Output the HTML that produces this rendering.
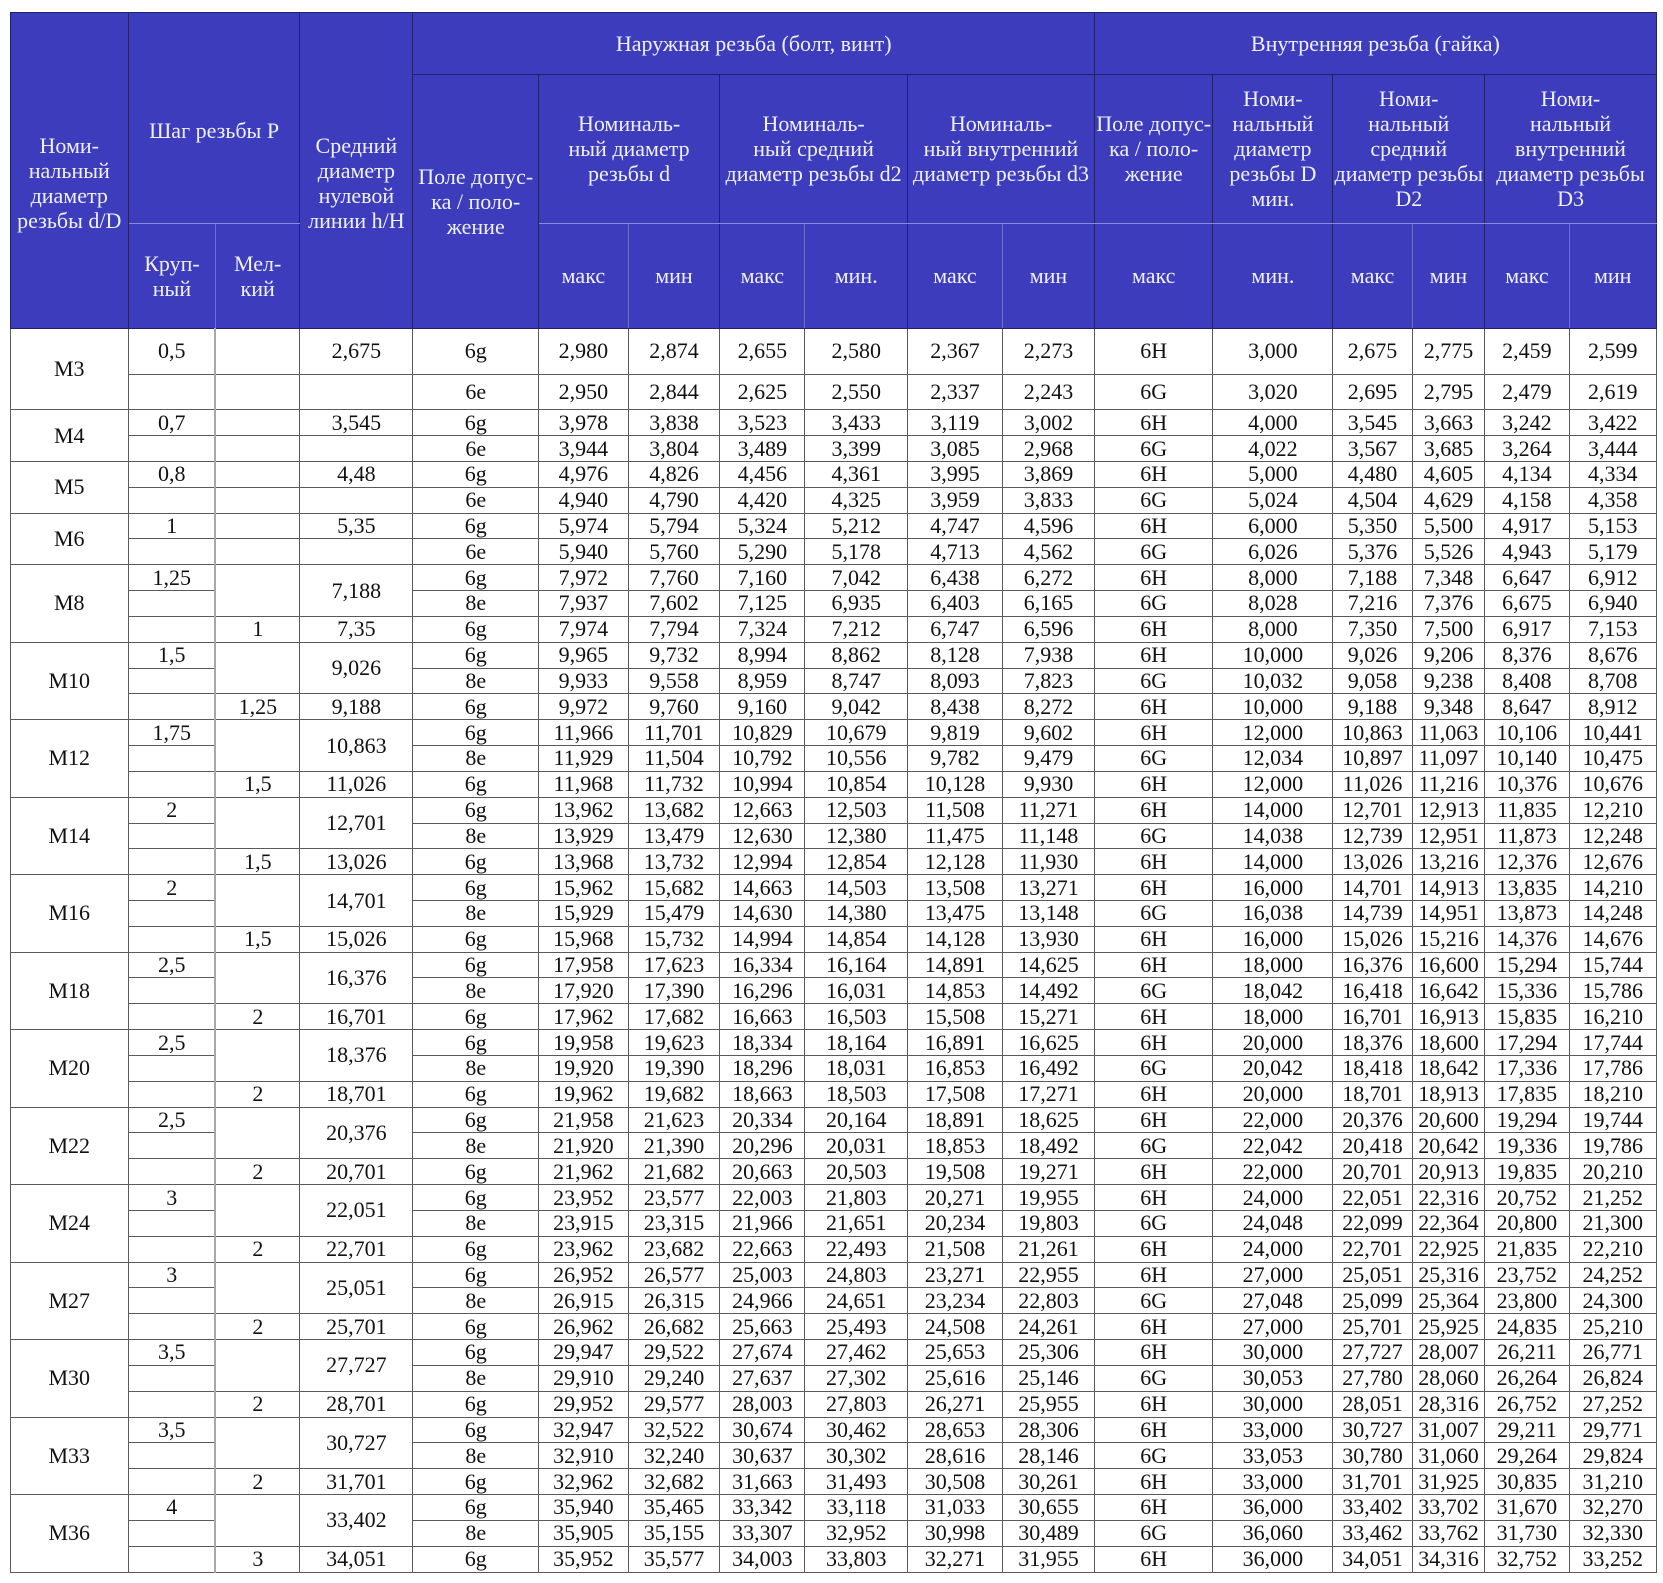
<!DOCTYPE html>
<html><head><meta charset="utf-8">
<style>
html,body{margin:0;padding:0;background:#fff;}
body{width:1663px;height:1583px;overflow:hidden;position:relative;}
table{position:absolute;left:9.6px;top:11.7px;border-collapse:collapse;table-layout:fixed;width:1646px;font-family:"Liberation Serif","DejaVu Serif",serif;font-size:22px;}
td{padding:0;text-align:center;vertical-align:middle;white-space:nowrap;border:1px solid #5a5a5a;line-height:22px;color:#111;overflow:hidden;}
thead td{background:#3c3cbc;color:#f0f0fa;border-color:#20206e;line-height:25px;}
thead td.pt{padding-top:26px;}
thead td.lb{border-bottom-color:#8a8ad8;}
thead td.lr{border-right-color:#6d6dcc;}
tr.a{height:62.3px;} tr.b{height:148.7px;} tr.c{height:105px;}
tr.r1{height:46.6px;} tr.r2{height:35px;}
tbody tr{height:25.84px;}
tbody td.k{border-right:2px solid #a8a8a8;}
</style></head><body>
<table>
<colgroup>
<col style="width:118.3px"><col style="width:87.1px"><col style="width:84.3px"><col style="width:113.2px"><col style="width:125.5px"><col style="width:89.8px"><col style="width:91.4px"><col style="width:85.3px"><col style="width:102.5px"><col style="width:95px"><col style="width:91.9px"><col style="width:118.5px"><col style="width:119.9px"><col style="width:79.4px"><col style="width:72.5px"><col style="width:84.4px"><col style="width:87.2px">
</colgroup>
<thead>
<tr class="a">
<td rowspan="3" class="pt">Номи-<br>нальный<br>диаметр<br>резьбы d/D</td>
<td colspan="2" rowspan="2" class="pt lb">Шаг резьбы Р</td>
<td rowspan="3" class="pt">Средний<br>диаметр<br>нулевой<br>линии h/H</td>
<td colspan="7">Наружная резьба (болт, винт)</td>
<td colspan="6">Внутренняя резьба (гайка)</td>
</tr>
<tr class="b">
<td rowspan="2">Поле допус-<br>ка / поло-<br>жение</td>
<td colspan="2" class="lb">Номиналь-<br>ный диаметр<br>резьбы d</td>
<td colspan="2" class="lb">Номиналь-<br>ный средний<br>диаметр резьбы d2</td>
<td colspan="2" class="lb">Номиналь-<br>ный внутренний<br>диаметр резьбы d3</td>
<td class="lb">Поле допус-<br>ка / поло-<br>жение</td>
<td class="lb">Номи-<br>нальный<br>диаметр<br>резьбы D<br>мин.</td>
<td colspan="2" class="lb">Номи-<br>нальный<br>средний<br>диаметр резьбы<br>D2</td>
<td colspan="2" class="lb">Номи-<br>нальный<br>внутренний<br>диаметр резьбы<br>D3</td>
</tr>
<tr class="c">
<td class="lr">Круп-<br>ный</td><td>Мел-<br>кий</td>
<td class="lr">макс</td><td>мин</td><td class="lr">макс</td><td>мин.</td><td class="lr">макс</td><td>мин</td>
<td>макс</td><td>мин.</td><td class="lr">макс</td><td>мин</td><td class="lr">макс</td><td>мин</td>
</tr>
</thead>
<tbody>
<tr class="r1"><td rowspan="2">M3</td><td class="k">0,5</td><td></td><td>2,675</td><td>6g</td><td>2,980</td><td>2,874</td><td>2,655</td><td>2,580</td><td>2,367</td><td>2,273</td><td>6H</td><td>3,000</td><td>2,675</td><td>2,775</td><td>2,459</td><td>2,599</td></tr>
<tr class="r2"><td class="k"></td><td></td><td></td><td>6e</td><td>2,950</td><td>2,844</td><td>2,625</td><td>2,550</td><td>2,337</td><td>2,243</td><td>6G</td><td>3,020</td><td>2,695</td><td>2,795</td><td>2,479</td><td>2,619</td></tr>

<tr><td rowspan="2">M4</td><td class="k">0,7</td><td></td><td>3,545</td><td>6g</td><td>3,978</td><td>3,838</td><td>3,523</td><td>3,433</td><td>3,119</td><td>3,002</td><td>6H</td><td>4,000</td><td>3,545</td><td>3,663</td><td>3,242</td><td>3,422</td></tr>
<tr><td class="k"></td><td></td><td></td><td>6e</td><td>3,944</td><td>3,804</td><td>3,489</td><td>3,399</td><td>3,085</td><td>2,968</td><td>6G</td><td>4,022</td><td>3,567</td><td>3,685</td><td>3,264</td><td>3,444</td></tr>

<tr><td rowspan="2">M5</td><td class="k">0,8</td><td></td><td>4,48</td><td>6g</td><td>4,976</td><td>4,826</td><td>4,456</td><td>4,361</td><td>3,995</td><td>3,869</td><td>6H</td><td>5,000</td><td>4,480</td><td>4,605</td><td>4,134</td><td>4,334</td></tr>
<tr><td class="k"></td><td></td><td></td><td>6e</td><td>4,940</td><td>4,790</td><td>4,420</td><td>4,325</td><td>3,959</td><td>3,833</td><td>6G</td><td>5,024</td><td>4,504</td><td>4,629</td><td>4,158</td><td>4,358</td></tr>

<tr><td rowspan="2">M6</td><td class="k">1</td><td></td><td>5,35</td><td>6g</td><td>5,974</td><td>5,794</td><td>5,324</td><td>5,212</td><td>4,747</td><td>4,596</td><td>6H</td><td>6,000</td><td>5,350</td><td>5,500</td><td>4,917</td><td>5,153</td></tr>
<tr><td class="k"></td><td></td><td></td><td>6e</td><td>5,940</td><td>5,760</td><td>5,290</td><td>5,178</td><td>4,713</td><td>4,562</td><td>6G</td><td>6,026</td><td>5,376</td><td>5,526</td><td>4,943</td><td>5,179</td></tr>

<tr><td rowspan="3">M8</td><td class="k">1,25</td><td rowspan="2"></td><td rowspan="2">7,188</td><td>6g</td><td>7,972</td><td>7,760</td><td>7,160</td><td>7,042</td><td>6,438</td><td>6,272</td><td>6H</td><td>8,000</td><td>7,188</td><td>7,348</td><td>6,647</td><td>6,912</td></tr>
<tr><td class="k"></td><td>8e</td><td>7,937</td><td>7,602</td><td>7,125</td><td>6,935</td><td>6,403</td><td>6,165</td><td>6G</td><td>8,028</td><td>7,216</td><td>7,376</td><td>6,675</td><td>6,940</td></tr>
<tr><td class="k"></td><td>1</td><td>7,35</td><td>6g</td><td>7,974</td><td>7,794</td><td>7,324</td><td>7,212</td><td>6,747</td><td>6,596</td><td>6H</td><td>8,000</td><td>7,350</td><td>7,500</td><td>6,917</td><td>7,153</td></tr>

<tr><td rowspan="3">M10</td><td class="k">1,5</td><td rowspan="2"></td><td rowspan="2">9,026</td><td>6g</td><td>9,965</td><td>9,732</td><td>8,994</td><td>8,862</td><td>8,128</td><td>7,938</td><td>6H</td><td>10,000</td><td>9,026</td><td>9,206</td><td>8,376</td><td>8,676</td></tr>
<tr><td class="k"></td><td>8e</td><td>9,933</td><td>9,558</td><td>8,959</td><td>8,747</td><td>8,093</td><td>7,823</td><td>6G</td><td>10,032</td><td>9,058</td><td>9,238</td><td>8,408</td><td>8,708</td></tr>
<tr><td class="k"></td><td>1,25</td><td>9,188</td><td>6g</td><td>9,972</td><td>9,760</td><td>9,160</td><td>9,042</td><td>8,438</td><td>8,272</td><td>6H</td><td>10,000</td><td>9,188</td><td>9,348</td><td>8,647</td><td>8,912</td></tr>

<tr><td rowspan="3">M12</td><td class="k">1,75</td><td rowspan="2"></td><td rowspan="2">10,863</td><td>6g</td><td>11,966</td><td>11,701</td><td>10,829</td><td>10,679</td><td>9,819</td><td>9,602</td><td>6H</td><td>12,000</td><td>10,863</td><td>11,063</td><td>10,106</td><td>10,441</td></tr>
<tr><td class="k"></td><td>8e</td><td>11,929</td><td>11,504</td><td>10,792</td><td>10,556</td><td>9,782</td><td>9,479</td><td>6G</td><td>12,034</td><td>10,897</td><td>11,097</td><td>10,140</td><td>10,475</td></tr>
<tr><td class="k"></td><td>1,5</td><td>11,026</td><td>6g</td><td>11,968</td><td>11,732</td><td>10,994</td><td>10,854</td><td>10,128</td><td>9,930</td><td>6H</td><td>12,000</td><td>11,026</td><td>11,216</td><td>10,376</td><td>10,676</td></tr>

<tr><td rowspan="3">M14</td><td class="k">2</td><td rowspan="2"></td><td rowspan="2">12,701</td><td>6g</td><td>13,962</td><td>13,682</td><td>12,663</td><td>12,503</td><td>11,508</td><td>11,271</td><td>6H</td><td>14,000</td><td>12,701</td><td>12,913</td><td>11,835</td><td>12,210</td></tr>
<tr><td class="k"></td><td>8e</td><td>13,929</td><td>13,479</td><td>12,630</td><td>12,380</td><td>11,475</td><td>11,148</td><td>6G</td><td>14,038</td><td>12,739</td><td>12,951</td><td>11,873</td><td>12,248</td></tr>
<tr><td class="k"></td><td>1,5</td><td>13,026</td><td>6g</td><td>13,968</td><td>13,732</td><td>12,994</td><td>12,854</td><td>12,128</td><td>11,930</td><td>6H</td><td>14,000</td><td>13,026</td><td>13,216</td><td>12,376</td><td>12,676</td></tr>

<tr><td rowspan="3">M16</td><td class="k">2</td><td rowspan="2"></td><td rowspan="2">14,701</td><td>6g</td><td>15,962</td><td>15,682</td><td>14,663</td><td>14,503</td><td>13,508</td><td>13,271</td><td>6H</td><td>16,000</td><td>14,701</td><td>14,913</td><td>13,835</td><td>14,210</td></tr>
<tr><td class="k"></td><td>8e</td><td>15,929</td><td>15,479</td><td>14,630</td><td>14,380</td><td>13,475</td><td>13,148</td><td>6G</td><td>16,038</td><td>14,739</td><td>14,951</td><td>13,873</td><td>14,248</td></tr>
<tr><td class="k"></td><td>1,5</td><td>15,026</td><td>6g</td><td>15,968</td><td>15,732</td><td>14,994</td><td>14,854</td><td>14,128</td><td>13,930</td><td>6H</td><td>16,000</td><td>15,026</td><td>15,216</td><td>14,376</td><td>14,676</td></tr>

<tr><td rowspan="3">M18</td><td class="k">2,5</td><td rowspan="2"></td><td rowspan="2">16,376</td><td>6g</td><td>17,958</td><td>17,623</td><td>16,334</td><td>16,164</td><td>14,891</td><td>14,625</td><td>6H</td><td>18,000</td><td>16,376</td><td>16,600</td><td>15,294</td><td>15,744</td></tr>
<tr><td class="k"></td><td>8e</td><td>17,920</td><td>17,390</td><td>16,296</td><td>16,031</td><td>14,853</td><td>14,492</td><td>6G</td><td>18,042</td><td>16,418</td><td>16,642</td><td>15,336</td><td>15,786</td></tr>
<tr><td class="k"></td><td>2</td><td>16,701</td><td>6g</td><td>17,962</td><td>17,682</td><td>16,663</td><td>16,503</td><td>15,508</td><td>15,271</td><td>6H</td><td>18,000</td><td>16,701</td><td>16,913</td><td>15,835</td><td>16,210</td></tr>

<tr><td rowspan="3">M20</td><td class="k">2,5</td><td rowspan="2"></td><td rowspan="2">18,376</td><td>6g</td><td>19,958</td><td>19,623</td><td>18,334</td><td>18,164</td><td>16,891</td><td>16,625</td><td>6H</td><td>20,000</td><td>18,376</td><td>18,600</td><td>17,294</td><td>17,744</td></tr>
<tr><td class="k"></td><td>8e</td><td>19,920</td><td>19,390</td><td>18,296</td><td>18,031</td><td>16,853</td><td>16,492</td><td>6G</td><td>20,042</td><td>18,418</td><td>18,642</td><td>17,336</td><td>17,786</td></tr>
<tr><td class="k"></td><td>2</td><td>18,701</td><td>6g</td><td>19,962</td><td>19,682</td><td>18,663</td><td>18,503</td><td>17,508</td><td>17,271</td><td>6H</td><td>20,000</td><td>18,701</td><td>18,913</td><td>17,835</td><td>18,210</td></tr>

<tr><td rowspan="3">M22</td><td class="k">2,5</td><td rowspan="2"></td><td rowspan="2">20,376</td><td>6g</td><td>21,958</td><td>21,623</td><td>20,334</td><td>20,164</td><td>18,891</td><td>18,625</td><td>6H</td><td>22,000</td><td>20,376</td><td>20,600</td><td>19,294</td><td>19,744</td></tr>
<tr><td class="k"></td><td>8e</td><td>21,920</td><td>21,390</td><td>20,296</td><td>20,031</td><td>18,853</td><td>18,492</td><td>6G</td><td>22,042</td><td>20,418</td><td>20,642</td><td>19,336</td><td>19,786</td></tr>
<tr><td class="k"></td><td>2</td><td>20,701</td><td>6g</td><td>21,962</td><td>21,682</td><td>20,663</td><td>20,503</td><td>19,508</td><td>19,271</td><td>6H</td><td>22,000</td><td>20,701</td><td>20,913</td><td>19,835</td><td>20,210</td></tr>

<tr><td rowspan="3">M24</td><td class="k">3</td><td rowspan="2"></td><td rowspan="2">22,051</td><td>6g</td><td>23,952</td><td>23,577</td><td>22,003</td><td>21,803</td><td>20,271</td><td>19,955</td><td>6H</td><td>24,000</td><td>22,051</td><td>22,316</td><td>20,752</td><td>21,252</td></tr>
<tr><td class="k"></td><td>8e</td><td>23,915</td><td>23,315</td><td>21,966</td><td>21,651</td><td>20,234</td><td>19,803</td><td>6G</td><td>24,048</td><td>22,099</td><td>22,364</td><td>20,800</td><td>21,300</td></tr>
<tr><td class="k"></td><td>2</td><td>22,701</td><td>6g</td><td>23,962</td><td>23,682</td><td>22,663</td><td>22,493</td><td>21,508</td><td>21,261</td><td>6H</td><td>24,000</td><td>22,701</td><td>22,925</td><td>21,835</td><td>22,210</td></tr>

<tr><td rowspan="3">M27</td><td class="k">3</td><td rowspan="2"></td><td rowspan="2">25,051</td><td>6g</td><td>26,952</td><td>26,577</td><td>25,003</td><td>24,803</td><td>23,271</td><td>22,955</td><td>6H</td><td>27,000</td><td>25,051</td><td>25,316</td><td>23,752</td><td>24,252</td></tr>
<tr><td class="k"></td><td>8e</td><td>26,915</td><td>26,315</td><td>24,966</td><td>24,651</td><td>23,234</td><td>22,803</td><td>6G</td><td>27,048</td><td>25,099</td><td>25,364</td><td>23,800</td><td>24,300</td></tr>
<tr><td class="k"></td><td>2</td><td>25,701</td><td>6g</td><td>26,962</td><td>26,682</td><td>25,663</td><td>25,493</td><td>24,508</td><td>24,261</td><td>6H</td><td>27,000</td><td>25,701</td><td>25,925</td><td>24,835</td><td>25,210</td></tr>

<tr><td rowspan="3">M30</td><td class="k">3,5</td><td rowspan="2"></td><td rowspan="2">27,727</td><td>6g</td><td>29,947</td><td>29,522</td><td>27,674</td><td>27,462</td><td>25,653</td><td>25,306</td><td>6H</td><td>30,000</td><td>27,727</td><td>28,007</td><td>26,211</td><td>26,771</td></tr>
<tr><td class="k"></td><td>8e</td><td>29,910</td><td>29,240</td><td>27,637</td><td>27,302</td><td>25,616</td><td>25,146</td><td>6G</td><td>30,053</td><td>27,780</td><td>28,060</td><td>26,264</td><td>26,824</td></tr>
<tr><td class="k"></td><td>2</td><td>28,701</td><td>6g</td><td>29,952</td><td>29,577</td><td>28,003</td><td>27,803</td><td>26,271</td><td>25,955</td><td>6H</td><td>30,000</td><td>28,051</td><td>28,316</td><td>26,752</td><td>27,252</td></tr>

<tr><td rowspan="3">M33</td><td class="k">3,5</td><td rowspan="2"></td><td rowspan="2">30,727</td><td>6g</td><td>32,947</td><td>32,522</td><td>30,674</td><td>30,462</td><td>28,653</td><td>28,306</td><td>6H</td><td>33,000</td><td>30,727</td><td>31,007</td><td>29,211</td><td>29,771</td></tr>
<tr><td class="k"></td><td>8e</td><td>32,910</td><td>32,240</td><td>30,637</td><td>30,302</td><td>28,616</td><td>28,146</td><td>6G</td><td>33,053</td><td>30,780</td><td>31,060</td><td>29,264</td><td>29,824</td></tr>
<tr><td class="k"></td><td>2</td><td>31,701</td><td>6g</td><td>32,962</td><td>32,682</td><td>31,663</td><td>31,493</td><td>30,508</td><td>30,261</td><td>6H</td><td>33,000</td><td>31,701</td><td>31,925</td><td>30,835</td><td>31,210</td></tr>

<tr><td rowspan="3">M36</td><td class="k">4</td><td rowspan="2"></td><td rowspan="2">33,402</td><td>6g</td><td>35,940</td><td>35,465</td><td>33,342</td><td>33,118</td><td>31,033</td><td>30,655</td><td>6H</td><td>36,000</td><td>33,402</td><td>33,702</td><td>31,670</td><td>32,270</td></tr>
<tr><td class="k"></td><td>8e</td><td>35,905</td><td>35,155</td><td>33,307</td><td>32,952</td><td>30,998</td><td>30,489</td><td>6G</td><td>36,060</td><td>33,462</td><td>33,762</td><td>31,730</td><td>32,330</td></tr>
<tr><td class="k"></td><td>3</td><td>34,051</td><td>6g</td><td>35,952</td><td>35,577</td><td>34,003</td><td>33,803</td><td>32,271</td><td>31,955</td><td>6H</td><td>36,000</td><td>34,051</td><td>34,316</td><td>32,752</td><td>33,252</td></tr>
</tbody>
</table>
</body></html>
